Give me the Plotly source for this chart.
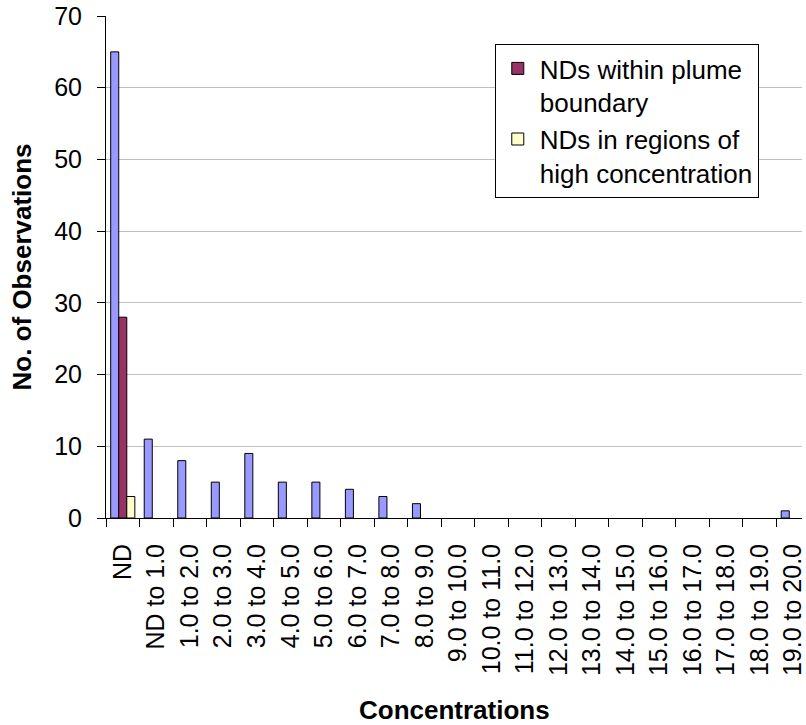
import plotly.graph_objects as go

categories = ["ND", "ND to 1.0", "1.0 to 2.0", "2.0 to 3.0", "3.0 to 4.0", "4.0 to 5.0",
              "5.0 to 6.0", "6.0 to 7.0", "7.0 to 8.0", "8.0 to 9.0", "9.0 to 10.0",
              "10.0 to 11.0", "11.0 to 12.0", "12.0 to 13.0", "13.0 to 14.0", "14.0 to 15.0",
              "15.0 to 16.0", "16.0 to 17.0", "17.0 to 18.0", "18.0 to 19.0", "19.0 to 20.0"]
all_obs = [65, 11, 8, 5, 9, 5, 5, 4, 3, 2, 0, 0, 0, 0, 0, 0, 0, 0, 0, 0, 1]
nd_plume = [28] + [0] * 20
nd_high = [3] + [0] * 20

FONT = "Liberation Sans, Arial, sans-serif"


def hide_zero(vals):
    # zero-height bars are not drawn in the original
    return [v if v else None for v in vals]


fig = go.Figure()
fig.add_trace(go.Bar(x=categories, y=hide_zero(all_obs), name="All observations", showlegend=False,
                     marker=dict(color="#9999FF", line=dict(color="black", width=1))))
fig.add_trace(go.Bar(x=categories, y=hide_zero(nd_plume), name="NDs within plume<br>boundary",
                     marker=dict(color="#993366", line=dict(color="black", width=1))))
fig.add_trace(go.Bar(x=categories, y=hide_zero(nd_high), name="NDs in regions of<br>high concentration",
                     marker=dict(color="#FFFFCC", line=dict(color="black", width=1))))

fig.update_layout(
    width=806, height=725,
    margin=dict(l=106, r=0, t=16, b=207),
    paper_bgcolor="white", plot_bgcolor="white",
    barmode="group", bargap=0.28, bargroupgap=0,
    font=dict(family=FONT, size=24, color="black"),
    showlegend=True,
    legend=dict(x=(497 - 106) / 700, y=(518 - 44) / 502, xanchor="left", yanchor="top",
                bgcolor="white", bordercolor="black", borderwidth=1,
                font=dict(family=FONT, size=26, color="black"),
                valign="top", tracegroupgap=14, itemwidth=34),
    annotations=[
        dict(text="<b>Concentrations</b>", xref="paper", yref="paper",
             x=0.5, y=-(710 - 518) / 502, xanchor="center", yanchor="middle",
             showarrow=False, font=dict(family=FONT, size=26, color="black")),
        dict(text="<b>No. of Observations</b>", xref="paper", yref="paper",
             x=-(106 - 22) / 700, y=0.5, xanchor="center", yanchor="middle",
             textangle=-90, showarrow=False, font=dict(family=FONT, size=26, color="black")),
    ],
)

fig.update_xaxes(type="category", range=[-0.5, 20.26], tickson="boundaries",
                 ticks="outside", ticklen=8, tickcolor="black", tickwidth=1,
                 showline=True, linecolor="black", linewidth=1,
                 tickangle=-90, ticklabelstandoff=15,
                 tickfont=dict(family=FONT, size=25, color="black"),
                 showgrid=False)
fig.update_yaxes(range=[0, 70], dtick=10, ticks="outside", ticklen=8, tickcolor="black",
                 showline=True, linecolor="black", linewidth=1, ticklabelstandoff=10,
                 gridcolor="#BFBFBF", gridwidth=1, zeroline=False,
                 tickfont=dict(family=FONT, size=25, color="black"))

fig.write_html("out.html")
